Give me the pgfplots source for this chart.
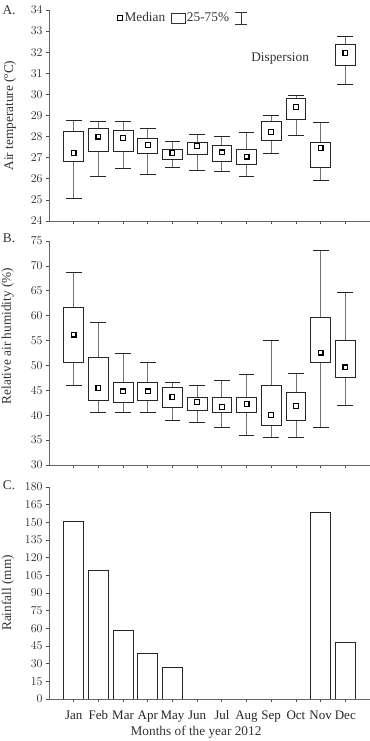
\documentclass[border=0pt]{standalone}
\usepackage{pgfplots}
\usepackage{pgfplotstable}
\pgfplotsset{compat=1.18}
\usepackage{fontspec}
\setmainfont{Liberation Serif}

\pgfplotstableread{
x lw q1 med q3 uw
1 25.08 26.84 27.23 28.26 28.79
2 26.12 27.28 28.00 28.37 28.73
3 26.49 27.28 27.93 28.29 28.73
4 26.19 27.20 27.59 27.90 28.38
5 26.52 26.93 27.23 27.39 27.78
6 26.39 27.14 27.55 27.74 28.12
7 26.37 26.84 27.25 27.57 28.03
8 26.09 26.70 27.05 27.41 28.22
9 27.22 27.82 28.23 28.72 29.01
10 28.08 28.83 29.39 29.83 29.97
11 25.93 26.54 27.46 27.71 28.66
12 30.45 31.38 31.95 32.37 32.74
}\tA

\pgfplotstableread{
x lw q1 med q3 uw
1 46.06 50.6 56.2 61.56 68.6
2 40.5 42.98 45.5 51.6 58.56
3 40.5 42.5 44.8 46.6 52.5
4 40.5 43.0 44.8 46.6 50.6
5 39.0 41.6 43.7 45.6 46.6
6 38.5 41.0 42.7 43.6 46.06
7 37.6 40.5 41.7 43.6 47.0
8 36.0 40.5 42.25 43.6 48.1
9 35.6 38.0 40.0 46.06 55.1
10 35.6 39.0 41.8 44.5 48.5
11 37.6 50.6 52.6 59.56 73.1
12 42.0 47.5 49.6 55.1 64.6
}\tB

\pgfplotstableread{
x rain
1 150.8
2 109.5
3 58.6
4 38.5
5 27.2
11 158.8
12 47.8
}\tC

% box outline: left x, right x, lower quartile, upper quartile
\newcommand\bx[4]{\addplot[boxdraw] coordinates {(#1,#3) (#2,#3) (#2,#4) (#1,#4)} --cycle;}

\pgfplotsset{
  panel/.style={
    scale only axis, width=321bp, xmin=0, xmax=13,
    axis x line*=bottom, axis y line*=left,
    axis line style={black!60, line width=0.8bp},
    tick style={black!70, line width=0.7bp},
    tick align=outside, major tick length=3bp,
    xtick={1,...,12},
    every tick label/.append style={font=\fontsize{12.5bp}{14bp}\selectfont, text=black!85},
    every axis label/.append style={font=\fontsize{13.3bp}{15bp}\selectfont, text=black!80},
    ytick pos=left, xtick pos=bottom,
  },
  boxdraw/.style={draw=black!85, fill=white, line width=0.8bp, mark=none},
  whisk/.style={only marks, mark=none,
    error bars/.cd, y dir=both, y explicit,
    error bar style={draw=black!55, line width=0.8bp},
    error mark options={rotate=90, draw=black!85, line width=0.8bp, mark size=7.9bp}},
  medst/.style={only marks, mark=square*, mark size=2.4bp, mark options={draw=black, fill=white, line width=1.2bp}},
}

\begin{document}
\begin{tikzpicture}
\useasboundingbox (0bp,0bp) rectangle (370bp,741bp);

% Panel A
\begin{axis}[panel, at={(49bp,520bp)}, anchor=south west, height=211bp,
  ymin=24, ymax=34, ytick={24,...,34}, xticklabels={},
  ylabel={Air temperature (ºC)},
  ylabel style={at={(rel axis cs:-0.1215,0.5)}, anchor=center},
  legend style={draw=none, fill=none, at={(rel axis cs:0.212,0.962)}, anchor=west, legend columns=3,
    inner sep=0pt, font=\fontsize{13.3bp}{15bp}\selectfont, text=black!80,
    nodes={inner sep=1.5bp}, /tikz/every even column/.append style={column sep=4bp}},
  legend cell align=left]
\addlegendimage{legend image code/.code={\draw[black, line width=1.2bp, fill=white] (0bp,-2.6bp) rectangle (4.6bp,2.6bp);}}
\addlegendentry{Median}
\addlegendimage{legend image code/.code={\draw[black!80, line width=0.8bp] (0bp,-5bp) rectangle (14bp,5bp);}}
\addlegendentry{25-75\%}
\addlegendimage{legend image code/.code={\draw[black!80, line width=0.8bp] (0bp,6bp) -- (12bp,6bp) (6bp,6bp) -- (6bp,-6bp) (0bp,-6bp) -- (12bp,-6bp);}}
\addlegendentry{}
\addplot[whisk] table[x=x, y=med, y error plus expr=\thisrow{uw}-\thisrow{med}, y error minus expr=\thisrow{med}-\thisrow{lw}] {\tA};
\bx{0.6}{1.4}{26.84}{28.26}
\bx{1.6}{2.4}{27.28}{28.37}
\bx{2.6}{3.4}{27.28}{28.29}
\bx{3.6}{4.4}{27.20}{27.90}
\bx{4.6}{5.4}{26.93}{27.39}
\bx{5.6}{6.4}{27.14}{27.74}
\bx{6.6}{7.4}{26.84}{27.57}
\bx{7.6}{8.4}{26.70}{27.41}
\bx{8.6}{9.4}{27.82}{28.72}
\bx{9.6}{10.4}{28.83}{29.83}
\bx{10.6}{11.4}{26.54}{27.71}
\bx{11.6}{12.4}{31.38}{32.37}
\addplot[medst] table[x=x, y=med] {\tA};
\node[font=\fontsize{13.3bp}{15bp}\selectfont, text=black!80] at (axis cs:9.36,31.68) {Dispersion};
\end{axis}

% Panel B
\begin{axis}[panel, at={(49bp,276bp)}, anchor=south west, height=224bp,
  ymin=30, ymax=75, ytick={30,35,...,75}, xticklabels={},
  ylabel={Relative air humidity (\%)},
  ylabel style={at={(rel axis cs:-0.129,0.576)}, anchor=center}]
\addplot[whisk] table[x=x, y=med, y error plus expr=\thisrow{uw}-\thisrow{med}, y error minus expr=\thisrow{med}-\thisrow{lw}] {\tB};
\bx{0.6}{1.4}{50.6}{61.56}
\bx{1.6}{2.4}{42.98}{51.6}
\bx{2.6}{3.4}{42.5}{46.6}
\bx{3.6}{4.4}{43.0}{46.6}
\bx{4.6}{5.4}{41.6}{45.6}
\bx{5.6}{6.4}{41.0}{43.6}
\bx{6.6}{7.4}{40.5}{43.6}
\bx{7.6}{8.4}{40.5}{43.6}
\bx{8.6}{9.4}{38.0}{46.06}
\bx{9.6}{10.4}{39.0}{44.5}
\bx{10.6}{11.4}{50.6}{59.56}
\bx{11.6}{12.4}{47.5}{55.1}
\addplot[medst] table[x=x, y=med] {\tB};
\end{axis}

% Panel C
\begin{axis}[panel, at={(49bp,42bp)}, anchor=south west, height=212bp,
  ymin=0, ymax=180, ytick={0,15,...,180},
  xticklabels={Jan,Feb,Mar,Apr,May,Jun,Jul,Aug,Sep,Oct,Nov,Dec},
  xticklabel style={font=\fontsize{13bp}{15bp}\selectfont, yshift=-5bp},
  ylabel={Rainfall (mm)},
  ylabel style={at={(rel axis cs:-0.128,0.5)}, anchor=center},
  xlabel={Months of the year 2012},
  xlabel style={at={(rel axis cs:0.458,-0.156)}, anchor=center}]
\addplot[ybar, bar width=0.8, fill=white, draw=black!85, line width=0.8bp] table[x=x, y=rain] {\tC};
\end{axis}

\node[font=\fontsize{13.3bp}{15bp}\selectfont, text=black!80] at (9bp,731bp) {A.};
\node[font=\fontsize{13.3bp}{15bp}\selectfont, text=black!80] at (9bp,503bp) {B.};
\node[font=\fontsize{13.3bp}{15bp}\selectfont, text=black!80] at (9bp,256bp) {C.};
\end{tikzpicture}
\end{document}
